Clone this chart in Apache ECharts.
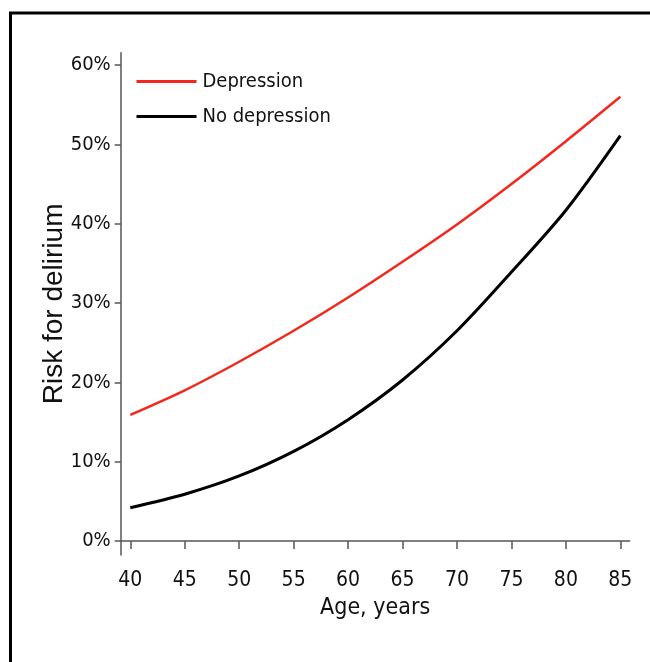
<!DOCTYPE html>
<html>
<head>
<meta charset="utf-8">
<script src="https://cdn.jsdelivr.net/npm/echarts@6/dist/echarts.min.js"></script>
<style>
html,body{margin:0;padding:0;background:#fff;}
#chart{width:650px;height:662px;}
</style>
</head>
<body>
<div id="chart"></div>
<script>
const ages = [40, 45, 50, 55, 60, 65, 70, 75, 80, 85];
const depression = [15.9, 19.0, 22.6, 26.5, 30.7, 35.2, 39.9, 45.0, 50.4, 56.0];
const noDepression = [4.2, 5.9, 8.2, 11.3, 15.3, 20.3, 26.5, 33.9, 41.7, 51.1];
const yTicks = [0, 10, 20, 30, 40, 50, 60];
const seriesNames = ['Depression', 'No depression'];

const narrow = '"Liberation Sans Narrow", "Arial Narrow", "DejaVu Sans Condensed", sans-serif';
const regular = '"Liberation Sans", Arial, sans-serif';

const chart = echarts.init(document.getElementById('chart'), null, {renderer: 'canvas'});
chart.setOption({
  animation: false,
  backgroundColor: '#fff',
  graphic: [{
    type: 'rect',
    shape: {x: 10.5, y: 13, width: 700, height: 700},
    style: {fill: 'none', stroke: '#000', lineWidth: 3},
    silent: true
  }],
  grid: {left: 120.7, right: 20.4, top: 52.7, bottom: 107, containLabel: false},
  legend: {
    orient: 'vertical',
    left: 131.5,
    top: 66,
    itemWidth: 60,
    itemHeight: 3,
    itemGap: 14,
    icon: 'rect',
    textStyle: {fontFamily: narrow, fontSize: 20, color: '#111', lineHeight: 21, padding: [0, 0, 0, 1]},
    data: seriesNames
  },
  xAxis: {
    type: 'value',
    min: 39.12,
    max: 85.85,
    name: 'Age, years',
    nameLocation: 'middle',
    nameGap: 42,
    nameMoveOverlap: false,
    nameTextStyle: {fontFamily: narrow, fontSize: 23, color: '#111'},
    axisLine: {show: true, lineStyle: {color: '#555', width: 1.5}},
    axisTick: {show: true, length: 8, lineStyle: {color: '#555', width: 1.5}, customValues: ages},
    axisLabel: {fontFamily: narrow, fontSize: 21, color: '#111', margin: 15, customValues: ages},
    splitLine: {show: false}
  },
  yAxis: {
    type: 'value',
    min: -1.76,
    max: 61.55,
    name: 'Risk for delirium',
    nameLocation: 'middle',
    nameGap: 52,
    nameMoveOverlap: false,
    nameTextStyle: {fontFamily: regular, fontSize: 28, color: '#111'},
    axisLine: {show: true, lineStyle: {color: '#555', width: 1.5}},
    axisTick: {show: true, length: 6, lineStyle: {color: '#555', width: 1.5}, customValues: yTicks},
    axisLabel: {fontFamily: narrow, fontSize: 20, color: '#111', margin: 10, formatter: '{value}%', customValues: yTicks},
    splitLine: {show: false}
  },
  series: [
    {
      name: seriesNames[0],
      type: 'line',
      data: ages.map((a, i) => [a, depression[i]]),
      smooth: 0.3,
      symbol: 'none',
      lineStyle: {color: '#f4271c', width: 2.5},
      itemStyle: {color: '#f4271c'}
    },
    {
      name: seriesNames[1],
      type: 'line',
      data: ages.map((a, i) => [a, noDepression[i]]),
      smooth: 0.3,
      symbol: 'none',
      lineStyle: {color: '#000', width: 3},
      itemStyle: {color: '#000'}
    }
  ]
});
</script>
</body>
</html>
